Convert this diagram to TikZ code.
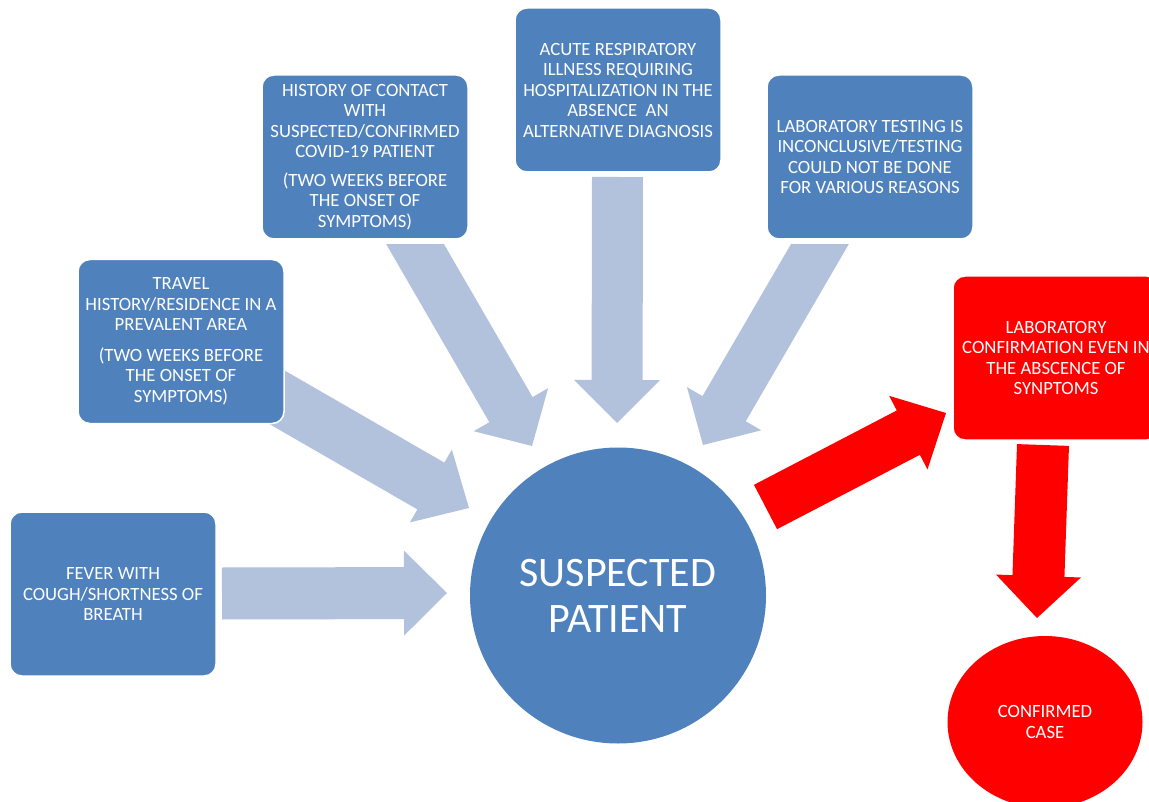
\documentclass[tikz,border=0pt]{standalone}
\usepackage{fontspec}
\setmainfont{Carlito}
\usetikzlibrary{calc,shapes.geometric}
\definecolor{boxblue}{HTML}{4F81BD}
\definecolor{arrowblue}{HTML}{B3C2DC}
\definecolor{alertred}{HTML}{FF0000}
% block arrow: #1 tail, #2 tip, #3 shaft half-width, #4 head half-width, #5 head length, #6 fill
\newcommand\blockarrow[6]{%
  \coordinate (hb) at ($(#2)!#5!(#1)$);
  \fill[#6] ($(#1)!#3!90:(#2)$) -- ($(hb)!#3!-90:(#1)$) -- ($(hb)!#4!-90:(#1)$) -- (#2)
    -- ($(hb)!#4!90:(#1)$) -- ($(hb)!#3!90:(#1)$) -- ($(#1)!#3!-90:(#2)$) -- cycle;
}
\tikzset{
  box/.style={rectangle, rounded corners=12pt, fill=boxblue, draw=white, line width=1.5pt,
    text=white, align=center, minimum width=206pt, minimum height=164pt, inner sep=0pt,
    font=\fontsize{18.7}{20.5}\selectfont},
  redbox/.style={box, fill=alertred},
  lightarrow/.style={fill=arrowblue},
  redarrow/.style={fill=alertred}
}
\begin{document}
\begin{tikzpicture}[x=1pt,y=-1pt]
\useasboundingbox (0,0) rectangle (1149,802);
\clip (0,0) rectangle (1149,802);
\fill[white] (0,0) rectangle (1149,802);

% arrow end points
\coordinate (a1s) at (222,593.5);  \coordinate (a1e) at (447,593);
\coordinate (a2s) at (260,387.5);  \coordinate (a2e) at (469,508);
\coordinate (a3s) at (404,225);    \coordinate (a3e) at (532,446);
\coordinate (a4s) at (617.5,177);  \coordinate (a4e) at (617,423);
\coordinate (a5s) at (831,225);    \coordinate (a5e) at (703,445);
\coordinate (a6s) at (765.5,507);  \coordinate (a6e) at (946,413);
\coordinate (a7s) at (1043,445);   \coordinate (a7e) at (1037,618);

% arrows
\blockarrow{a1s}{a1e}{26pt}{42.5pt}{43pt}{lightarrow}
\blockarrow{a2s}{a2e}{27pt}{42pt}{44pt}{lightarrow}
\begin{scope}
  \clip (0,245) rectangle (1149,802);
  \blockarrow{a3s}{a3e}{25pt}{43pt}{42pt}{lightarrow}
  \blockarrow{a5s}{a5e}{25pt}{43pt}{42pt}{lightarrow}
\end{scope}
\blockarrow{a4s}{a4e}{25.5pt}{43pt}{43pt}{lightarrow}
\blockarrow{a6s}{a6e}{25pt}{41.5pt}{42.5pt}{redarrow}
\blockarrow{a7s}{a7e}{26pt}{42.5pt}{42pt}{redarrow}

% nodes
\node[box] (fever) at (113,594) {FEVER WITH\\COUGH/SHORTNESS OF\\BREATH};
\node[box] (travel) at (181,341.5) {\raisebox{-2pt}{\parbox{200pt}{\centering TRAVEL\\HISTORY/RESIDENCE IN A\\PREVALENT AREA\\[10pt](TWO WEEKS BEFORE\\THE ONSET OF\\SYMPTOMS)}}};
\node[box] (contact) at (365,157) {HISTORY OF CONTACT\\WITH\\SUSPECTED/CONFIRMED\\COVID-19 PATIENT\\[8pt](TWO WEEKS BEFORE\\THE ONSET OF\\SYMPTOMS)};
\node[box] (acute) at (618,90) {ACUTE RESPIRATORY\\ILLNESS REQUIRING\\HOSPITALIZATION IN THE\\ABSENCE\ \ AN\\ALTERNATIVE DIAGNOSIS};
\node[box] (labtest) at (870,157) {LABORATORY TESTING IS\\INCONCLUSIVE/TESTING\\COULD NOT BE DONE\\FOR VARIOUS REASONS};
\node[redbox] (labconf) at (1056,358) {LABORATORY\\CONFIRMATION EVEN IN\\THE ABSCENCE OF\\SYNPTOMS};
\node[circle, fill=boxblue, minimum size=296pt, inner sep=0pt, text=white, align=center,
  font=\fontsize{42}{46}\selectfont] (suspect) at (618,595.5) {\raisebox{2pt}{\parbox{280pt}{\centering SUSPECTED\\PATIENT}}};
\node[ellipse, fill=alertred, minimum width=195pt, minimum height=172pt, inner sep=0pt,
  text=white, align=center, font=\fontsize{18.7}{20.5}\selectfont] (confirmed) at (1045,722) {CONFIRMED\\CASE};
\end{tikzpicture}
\end{document}
